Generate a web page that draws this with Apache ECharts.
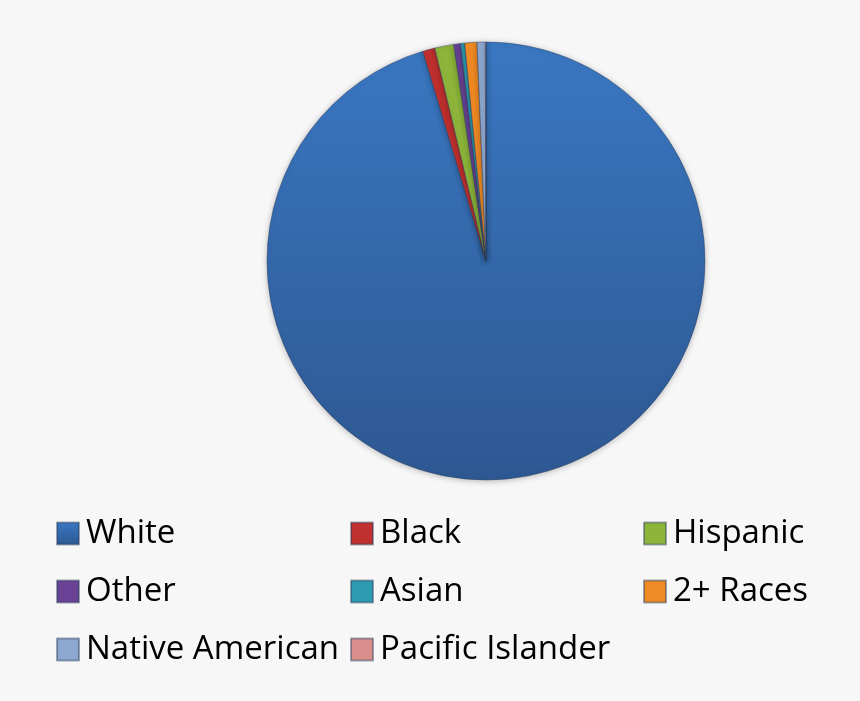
<!DOCTYPE html>
<html>
<head>
<meta charset="utf-8">
<script src="https://cdn.jsdelivr.net/npm/echarts@6/dist/echarts.min.js"></script>
<style>
html,body{margin:0;padding:0;background:#f7f7f7;}
#chart{width:860px;height:701px;}
</style>
</head>
<body>
<div id="chart"></div>
<script>
const categories = ['White', 'Black', 'Hispanic', 'Other', 'Asian', '2+ Races', 'Native American', 'Pacific Islander'];
const values = [95.3, 0.9, 1.4, 0.5, 0.3, 0.9, 0.6, 0.05];
const colors = ['#3670b8', '#c0302e', '#8db53a', '#6a4396', '#2c9bb2', '#f08a24', '#8fa8d0', '#d98e8c'];
const legendColumns = [
  ['White', 'Other', 'Native American'],
  ['Black', 'Asian', 'Pacific Islander'],
  ['Hispanic', '2+ Races']
];

const chart = echarts.init(document.getElementById('chart'));
const data = categories.map((n, i) => ({
  name: n, value: values[i],
  itemStyle: {color: i === 0 ? new echarts.graphic.LinearGradient(0, 0, 0, 1, [
    {offset: 0, color: '#3a77c2'}, {offset: 1, color: '#2e5892'}]) : colors[i]}
}));
const legendX = [56, 350, 643];
const legends = legendColumns.map((col, k) => ({
  data: col,
  orient: 'vertical',
  left: legendX[k],
  top: 517,
  itemWidth: 22,
  itemHeight: 22,
  itemGap: 25,
  icon: 'rect',
  textStyle: {fontFamily: 'Open Sans', fontSize: 33, lineHeight: 30, color: '#000', padding: [0, 0, 0, 2]},
  padding: 0,
  selectedMode: false
}));
chart.setOption({
  backgroundColor: '#f7f7f7',
  color: colors,
  animation: false,
  legend: legends,
  series: [{
    type: 'pie',
    center: [486, 261],
    radius: 219,
    startAngle: 90,
    clockwise: true,
    label: {show: false},
    labelLine: {show: false},
    itemStyle: {borderColor: 'rgba(40,60,90,0.45)', borderWidth: 1,
      shadowBlur: 6, shadowColor: 'rgba(0,0,0,0.25)', shadowOffsetY: 1},
    data: data
  }]
});
</script>
</body>
</html>
